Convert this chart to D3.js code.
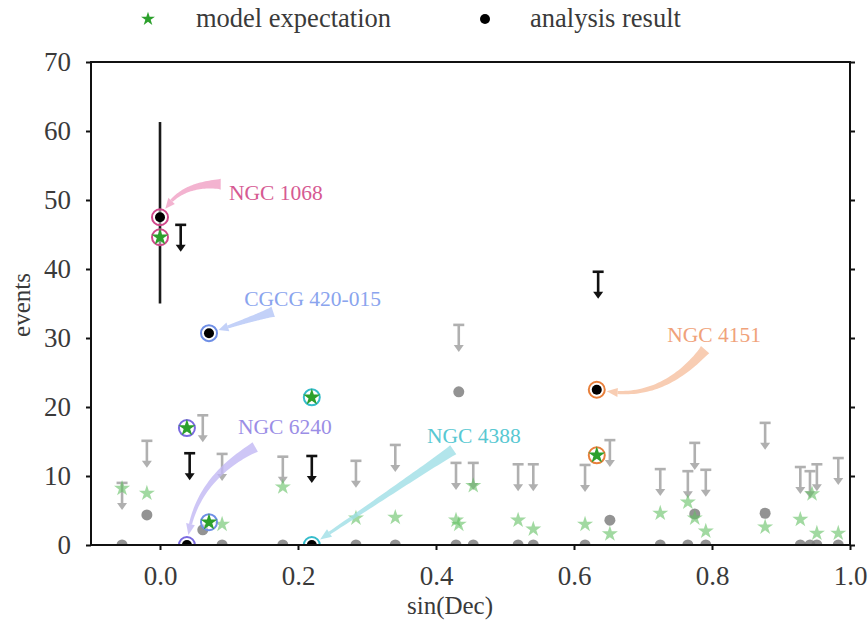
<!DOCTYPE html>
<html><head><meta charset="utf-8">
<script src="https://cdn.jsdelivr.net/npm/d3@7"></script>
<style>
html,body{margin:0;padding:0;background:#fff;}
text{font-family:"Liberation Serif","DejaVu Serif",serif;}
</style></head>
<body><svg id="chart" width="868" height="632"></svg>
<script>
// ---------- DATA ----------
const xTicks = [0.0, 0.2, 0.4, 0.6, 0.8, 1.0];
const xTickLabels = ["0.0", "0.2", "0.4", "0.6", "0.8", "1.0"];
const yTicks = [0, 10, 20, 30, 40, 50, 60, 70];

// background (grey) upper limits
const ulSinDec = [-0.055,-0.019,0.062,0.090,0.178,0.284,0.341,0.429,0.433,0.454,0.519,0.541,0.616,0.652,0.725,0.765,0.775,0.791,0.877,0.928,0.942,0.952,0.983];
const ulValue  = [9.0,15.1,18.8,13.2,12.8,12.2,14.5,11.9,31.9,11.9,11.7,11.7,11.6,15.2,11.0,10.7,14.8,10.9,17.7,11.3,10.7,11.7,12.6];

// background (grey) non-zero analysis results
const resSinDec = [-0.019, 0.062, 0.433, 0.652, 0.775, 0.877];
const resValue  = [4.35, 2.2, 22.2, 3.6, 4.5, 4.6];

// background analysis results equal to zero
const zeroSinDec = [-0.055,0.090,0.178,0.284,0.341,0.429,0.454,0.519,0.541,0.616,0.725,0.765,0.791,0.928,0.942,0.952,0.983];

// background model expectations
const modelSinDec = [-0.055,-0.019,0.090,0.178,0.284,0.341,0.429,0.433,0.454,0.519,0.541,0.616,0.652,0.725,0.765,0.775,0.791,0.877,0.928,0.945,0.952,0.983];
const modelValue  = [8.2,7.5,3.0,8.4,3.9,4.0,3.6,3.0,8.6,3.6,2.3,3.0,1.6,4.6,6.2,3.9,2.0,2.6,3.7,7.4,1.7,1.7];

// black upper limits
const blackUlSinDec = [0.030, 0.043, 0.220, 0.635];
const blackUlValue  = [46.4, 13.3, 12.9, 39.6];

// highlighted sources
const hlNames   = ["NGC 1068", "CGCG 420-015", "NGC 6240", "NGC 4388", "NGC 4151"];
const hlSinDec  = [0.0, 0.071, 0.039, 0.220, 0.633];
const hlModel   = [44.6, 3.3, 16.95, 21.4, 13.0];
const hlResult  = [47.5, 30.7, 0, 0, 22.5];
const hlRing    = ["#d0488a", "#6f8fe6", "#7a6ae0", "#35bccb", "#e8803c"];
const hlText    = ["#d65a92", "#8aa4ee", "#9b8ee6", "#58c8d2", "#f0a27a"];
const hlArrow   = ["#f0a0c4", "#b4c6f6", "#c2b8f4", "#9fdfe6", "#f6c0a0"];
// annotation text anchor (data coords) and arrow tail (data coords), curvature
const hlLabelX  = [0.100, 0.122, 0.113, 0.387, 0.735];
const hlLabelY  = [51.0, 35.7, 17.1, 15.8, 30.4];
const hlTailX   = [0.088, 0.164, 0.138, 0.425, 0.790];
const hlTailY   = [52.3, 33.8, 14.2, 13.8, 28.3];
const hlRad     = [0.28, 0.0, 0.25, 0.0, -0.28];

// NGC 1068 error bar
const errSinDec = 0.0;
const errRange  = [35.0, 61.3];

// ---------- LAYOUT ----------
const svg = d3.select("#chart");
const L = 91, R = 850, T = 62, B = 545;
const x = d3.scaleLinear().domain([-0.1, 1.0]).range([L, R]);
const y = d3.scaleLinear().domain([0, 70]).range([B, T]);

svg.append("defs").append("clipPath").attr("id", "clip")
  .append("rect").attr("x", L).attr("y", T).attr("width", R - L).attr("height", B - T);

const plot = svg.append("g").attr("clip-path", "url(#clip)");

const starPath = d3.symbol().type(d3.symbolStar).size(80)();
const starPathBig = d3.symbol().type(d3.symbolStar).size(90)();
const ULLEN = 27;

function upperLimit(g, sx, v, color) {
  const cx = x(sx), cy = y(v);
  g.append("line").attr("x1", cx - 5.5).attr("x2", cx + 5.5).attr("y1", cy).attr("y2", cy)
    .attr("stroke", color).attr("stroke-width", 2.6);
  g.append("line").attr("x1", cx).attr("x2", cx).attr("y1", cy).attr("y2", cy + ULLEN - 5)
    .attr("stroke", color).attr("stroke-width", 2.6);
  g.append("path").attr("d", `M${cx - 5},${cy + ULLEN - 7} L${cx + 5},${cy + ULLEN - 7} L${cx},${cy + ULLEN} Z`)
    .attr("fill", color);
}

// grey upper limits
const gUL = plot.append("g");
ulSinDec.forEach((s, i) => upperLimit(gUL, s, ulValue[i], "#b0b0b0"));

// grey result dots
plot.append("g").selectAll("circle").data(resSinDec).join("circle")
  .attr("cx", d => x(d)).attr("cy", (d, i) => y(resValue[i])).attr("r", 5.5)
  .attr("fill", "#808080").attr("fill-opacity", 0.85);
plot.append("g").selectAll("circle").data(zeroSinDec).join("circle")
  .attr("cx", d => x(d)).attr("cy", y(0)).attr("r", 5.5)
  .attr("fill", "#808080").attr("fill-opacity", 0.85);

// background model stars
plot.append("g").selectAll("path").data(modelSinDec).join("path")
  .attr("d", starPath)
  .attr("transform", (d, i) => `translate(${x(d)},${y(modelValue[i])})`)
  .attr("fill", "#62c062").attr("fill-opacity", 0.6);

// black upper limits
const gBUL = plot.append("g");
blackUlSinDec.forEach((s, i) => upperLimit(gBUL, s, blackUlValue[i], "#111"));

// error bar
plot.append("line").attr("x1", x(errSinDec)).attr("x2", x(errSinDec))
  .attr("y1", y(errRange[0])).attr("y2", y(errRange[1]))
  .attr("stroke", "#1a1a1a").attr("stroke-width", 2.6);

// annotation arrows
function bez(p0, c, p1, t) {
  const u = 1 - t;
  return [u*u*p0[0] + 2*u*t*c[0] + t*t*p1[0], u*u*p0[1] + 2*u*t*c[1] + t*t*p1[1]];
}
const gAnn = svg.append("g");
hlNames.forEach((name, i) => {
  const S = [x(hlTailX[i]), y(hlTailY[i])];
  const P = [x(hlSinDec[i]), y(hlResult[i])];
  const dx = P[0] - S[0], dy = P[1] - S[1];
  const C = [(S[0] + P[0]) / 2 - hlRad[i] * dy, (S[1] + P[1]) / 2 + hlRad[i] * dx];
  const vx = P[0] - C[0], vy = P[1] - C[1], vl = Math.hypot(vx, vy);
  const E = [P[0] - vx / vl * 10, P[1] - vy / vl * 10];
  const N = 40, headLen = 9, w0 = 11, w1 = 3;
  const pts = d3.range(N + 1).map(k => bez(S, C, E, k / N));
  let lens = [0];
  for (let k = 1; k <= N; k++) lens.push(lens[k-1] + Math.hypot(pts[k][0]-pts[k-1][0], pts[k][1]-pts[k-1][1]));
  const total = lens[N];
  const left = [], right = [];
  let headBase = null, headDir = null;
  for (let k = 0; k <= N; k++) {
    if (lens[k] > total - headLen) { break; }
    const a = pts[Math.max(0, k-1)], b = pts[Math.min(N, k+1)];
    let tx = b[0]-a[0], ty = b[1]-a[1]; const tl = Math.hypot(tx, ty); tx/=tl; ty/=tl;
    const f = lens[k] / (total - headLen);
    const w = (w0 + (w1 - w0) * Math.pow(f, 0.6)) / 2;
    left.push([pts[k][0] - ty*w, pts[k][1] + tx*w]);
    right.push([pts[k][0] + ty*w, pts[k][1] - tx*w]);
    headBase = pts[k]; headDir = [tx, ty];
  }
  const poly = left.concat(right.reverse());
  gAnn.append("path").attr("d", "M" + poly.map(p => p.join(",")).join("L") + "Z")
    .attr("fill", hlArrow[i]).attr("fill-opacity", 0.8);
  const hw = 4.5;
  gAnn.append("path")
    .attr("d", `M${headBase[0] - headDir[1]*hw},${headBase[1] + headDir[0]*hw} L${E[0]},${E[1]} L${headBase[0] + headDir[1]*hw},${headBase[1] - headDir[0]*hw} Z`)
    .attr("fill", hlArrow[i]).attr("fill-opacity", 0.8);
  gAnn.append("text").attr("x", x(hlLabelX[i])).attr("y", y(hlLabelY[i]))
    .attr("dominant-baseline", "central")
    .attr("font-size", 21.5).attr("fill", hlText[i]).text(name);
});

// highlighted points
const gHL = svg.append("g").attr("clip-path", "url(#clip)");
hlNames.forEach((name, i) => {
  const cx = x(hlSinDec[i]);
  gHL.append("circle").attr("cx", cx).attr("cy", y(hlModel[i])).attr("r", 8)
    .attr("fill", "#fff").attr("fill-opacity", 0.5).attr("stroke", hlRing[i]).attr("stroke-width", 2);
  gHL.append("path").attr("d", starPathBig).attr("transform", `translate(${cx},${y(hlModel[i])})`)
    .attr("fill", "#2ca02c");
  gHL.append("circle").attr("cx", cx).attr("cy", y(hlResult[i])).attr("r", 8)
    .attr("fill", "#fff").attr("fill-opacity", 0.5).attr("stroke", hlRing[i]).attr("stroke-width", 2);
  gHL.append("circle").attr("cx", cx).attr("cy", y(hlResult[i])).attr("r", 5)
    .attr("fill", "#000");
});

// frame
svg.append("rect").attr("x", L).attr("y", T).attr("width", R - L).attr("height", B - T)
  .attr("fill", "none").attr("stroke", "#111").attr("stroke-width", 2);

// axes
const xAxis = svg.append("g").attr("transform", `translate(0,${B})`)
  .call(d3.axisBottom(x).tickValues(xTicks).tickFormat((d, i) => xTickLabels[i]).tickSize(5).tickPadding(16));
const yAxis = svg.append("g").attr("transform", `translate(${L},0)`)
  .call(d3.axisLeft(y).tickValues(yTicks).tickSize(5).tickPadding(15));
const yAxisR = svg.append("g").attr("transform", `translate(${R},0)`)
  .call(d3.axisRight(y).tickValues(yTicks).tickSize(5).tickFormat(""));
[xAxis, yAxis, yAxisR].forEach(a => {
  a.select(".domain").remove();
  a.selectAll(".tick line").attr("stroke", "#111").attr("stroke-width", 2);
  a.selectAll("text").attr("font-size", 27).attr("fill", "#3a3a3a").attr("font-family", "Liberation Serif, serif");
});

// axis labels
svg.append("text").attr("x", 450).attr("y", 614).attr("text-anchor", "middle")
  .attr("font-size", 25).attr("fill", "#3a3a3a").text("sin(Dec)");
svg.append("text").attr("transform", "translate(30,305) rotate(-90)").attr("text-anchor", "middle")
  .attr("font-size", 25).attr("fill", "#3a3a3a").text("events");

// legend
svg.append("path").attr("d", d3.symbol().type(d3.symbolStar).size(60)()).attr("transform", "translate(148,19)").attr("fill", "#2ca02c");
svg.append("text").attr("x", 196).attr("y", 27).attr("font-size", 26.5).attr("fill", "#3a3a3a").text("model expectation");
svg.append("circle").attr("cx", 485).attr("cy", 19).attr("r", 5).attr("fill", "#000");
svg.append("text").attr("x", 530).attr("y", 27).attr("font-size", 26.5).attr("fill", "#3a3a3a").text("analysis result");
</script></body></html>
